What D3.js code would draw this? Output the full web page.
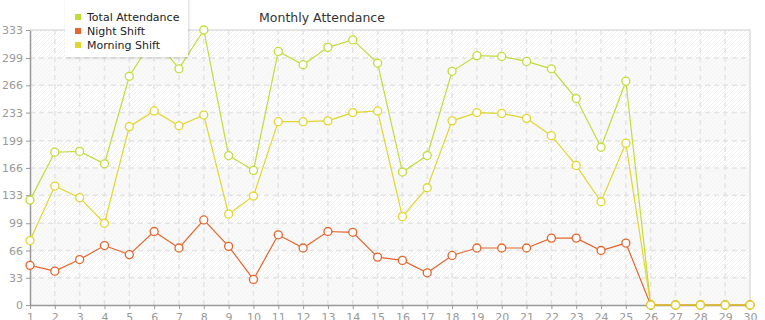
<!DOCTYPE html>
<html>
<head>
<meta charset="utf-8">
<script src="https://cdn.jsdelivr.net/npm/d3@7"></script>
<style>
  body { margin: 0; background: #fff; }
  svg { display: block; font-family: "DejaVu Sans", Verdana, sans-serif; }
</style>
</head>
<body>
<div id="chart"></div>
<script>
// chart data
const days = d3.range(1, 31);
const totalAttendance = [127, 185, 186, 171, 277, 324, 286, 333, 181, 163, 307, 291, 312, 321, 293,
                         161, 181, 283, 302, 301, 295, 286, 250, 191, 271, 0, 0, 0, 0, 0];
const nightShift = [48, 41, 55, 72, 61, 89, 69, 103, 71, 31, 85, 69, 89, 88, 58,
                    54, 39, 60, 69, 69, 69, 81, 81, 66, 75, 0, 0, 0, 0, 0];
const morningShift = [78, 144, 130, 99, 216, 235, 217, 230, 110, 132, 222, 222, 223, 233, 235,
                      107, 142, 223, 233, 232, 226, 205, 169, 125, 196, 0, 0, 0, 0, 0];
const yTicks = [0, 33, 66, 99, 133, 166, 199, 233, 266, 299, 333];
const seriesNames = ["Total Attendance", "Night Shift", "Morning Shift"];
const seriesColors = ["#c2dc3a", "#e4652e", "#e2d62c"];

// constants for plot design
const FRAME_WIDTH = 765;
const FRAME_HEIGHT = 320;
const MARGINS = {left: 30, right: 15, top: 30, bottom: 15};
const VIS_WIDTH = FRAME_WIDTH - MARGINS.left - MARGINS.right;
const VIS_HEIGHT = FRAME_HEIGHT - MARGINS.top - MARGINS.bottom;

const svg = d3.select("#chart")
  .append("svg")
    .attr("width", FRAME_WIDTH)
    .attr("height", FRAME_HEIGHT);

const defs = svg.append("defs");
const hatch = defs.append("pattern")
    .attr("id", "hatch")
    .attr("width", 4)
    .attr("height", 4)
    .attr("patternUnits", "userSpaceOnUse");
hatch.append("rect").attr("width", 4).attr("height", 4).attr("fill", "#fff");
hatch.append("path")
    .attr("d", "M-1,1 l2,-2 M0,4 l4,-4 M3,5 l2,-2")
    .attr("stroke", "#efefef")
    .attr("stroke-width", 1);

const shadow = defs.append("filter").attr("id", "shadow")
    .attr("x", "-20%").attr("y", "-20%").attr("width", "140%").attr("height", "150%");
shadow.append("feDropShadow")
    .attr("dx", 1).attr("dy", 1).attr("stdDeviation", 1.5)
    .attr("flood-color", "#000").attr("flood-opacity", 0.15);

// scales
const xScale = d3.scaleLinear()
    .domain([1, 30])
    .range([MARGINS.left, MARGINS.left + VIS_WIDTH]);

const yScale = d3.scaleLinear()
    .domain([0, 333])
    .range([MARGINS.top + VIS_HEIGHT, MARGINS.top]);

// plot background with hatching
svg.append("rect")
    .attr("x", xScale(1))
    .attr("y", yScale(333))
    .attr("width", xScale(30) - xScale(1))
    .attr("height", yScale(0) - yScale(333))
    .attr("fill", "url(#hatch)");

// alternating bands
const bands = d3.pairs(yTicks).filter((d, i) => i % 2 === 0);
svg.append("g")
  .selectAll("rect")
  .data(bands)
  .join("rect")
    .attr("x", xScale(1))
    .attr("y", (d) => yScale(d[1]))
    .attr("width", xScale(30) - xScale(1))
    .attr("height", (d) => yScale(d[0]) - yScale(d[1]))
    .attr("fill", "#f7f7f7")
    .attr("opacity", 0.7);

// dashed grid lines
svg.append("g")
  .selectAll("line")
  .data(yTicks.slice(1, -1))
  .join("line")
    .attr("x1", xScale(1))
    .attr("x2", xScale(30))
    .attr("y1", (d) => yScale(d))
    .attr("y2", (d) => yScale(d))
    .attr("stroke", "#e4e4e4")
    .attr("stroke-width", 1.5)
    .attr("stroke-dasharray", "5,4");

svg.append("g")
  .selectAll("line")
  .data(days.slice(1, -1))
  .join("line")
    .attr("x1", (d) => xScale(d))
    .attr("x2", (d) => xScale(d))
    .attr("y1", yScale(0))
    .attr("y2", yScale(333))
    .attr("stroke", "#e4e4e4")
    .attr("stroke-width", 1.5)
    .attr("stroke-dasharray", "5,4");

// top and right border
svg.append("path")
    .attr("d", "M" + xScale(1) + "," + yScale(333) + "H" + xScale(30) + "V" + yScale(0))
    .attr("fill", "none")
    .attr("stroke", "#dddddd")
    .attr("stroke-width", 1.5);

// axes
const xAxis = svg.append("g")
    .attr("transform", "translate(0," + yScale(0) + ")")
    .call(d3.axisBottom(xScale).tickValues(days).tickSize(4).tickSizeOuter(0).tickPadding(4));

const yAxis = svg.append("g")
    .attr("transform", "translate(" + xScale(1) + ",0)")
    .call(d3.axisLeft(yScale).tickValues(yTicks).tickSize(4).tickSizeOuter(0).tickPadding(3));

[xAxis, yAxis].forEach((ax) => {
  ax.select(".domain").attr("stroke", "#999").attr("stroke-width", 1.5);
  ax.selectAll(".tick line").attr("stroke", "#999");
  ax.selectAll(".tick text")
      .attr("fill", "#999")
      .attr("font-size", "11px")
      .attr("font-family", "DejaVu Sans, Verdana, sans-serif");
});

// lines and markers
const allSeries = [totalAttendance, nightShift, morningShift];
const line = d3.line()
    .x((d, i) => xScale(days[i]))
    .y((d) => yScale(d));

allSeries.forEach((values, k) => {
  svg.append("path")
      .datum(values)
      .attr("d", line)
      .attr("fill", "none")
      .attr("stroke", seriesColors[k])
      .attr("stroke-width", 1.2);
});

allSeries.forEach((values, k) => {
  svg.append("g")
    .selectAll("circle")
    .data(values)
    .join("circle")
      .attr("cx", (d, i) => xScale(days[i]))
      .attr("cy", (d) => yScale(d))
      .attr("r", 4)
      .attr("fill", "#fff")
      .attr("stroke", seriesColors[k])
      .attr("stroke-width", 1.3);
});

// title
svg.append("text")
    .attr("x", 322)
    .attr("y", 22)
    .attr("text-anchor", "middle")
    .attr("font-size", "12.5px")
    .attr("fill", "#333")
    .text("Monthly Attendance");

// legend
const legend = svg.append("g").attr("transform", "translate(65,-6)");
legend.append("rect")
    .attr("width", 123)
    .attr("height", 63)
    .attr("fill", "#fff")
    .attr("filter", "url(#shadow)");

const items = legend.selectAll("g.item")
  .data(seriesNames)
  .join("g")
    .attr("class", "item")
    .attr("transform", (d, i) => "translate(10," + (20 + i * 14) + ")");

items.append("rect")
    .attr("width", 6)
    .attr("height", 6)
    .attr("fill", (d, i) => seriesColors[i]);

items.append("text")
    .attr("x", 12)
    .attr("y", 7)
    .attr("font-size", "11px")
    .attr("fill", "#222")
    .text((d) => d);
</script>
</body>
</html>
